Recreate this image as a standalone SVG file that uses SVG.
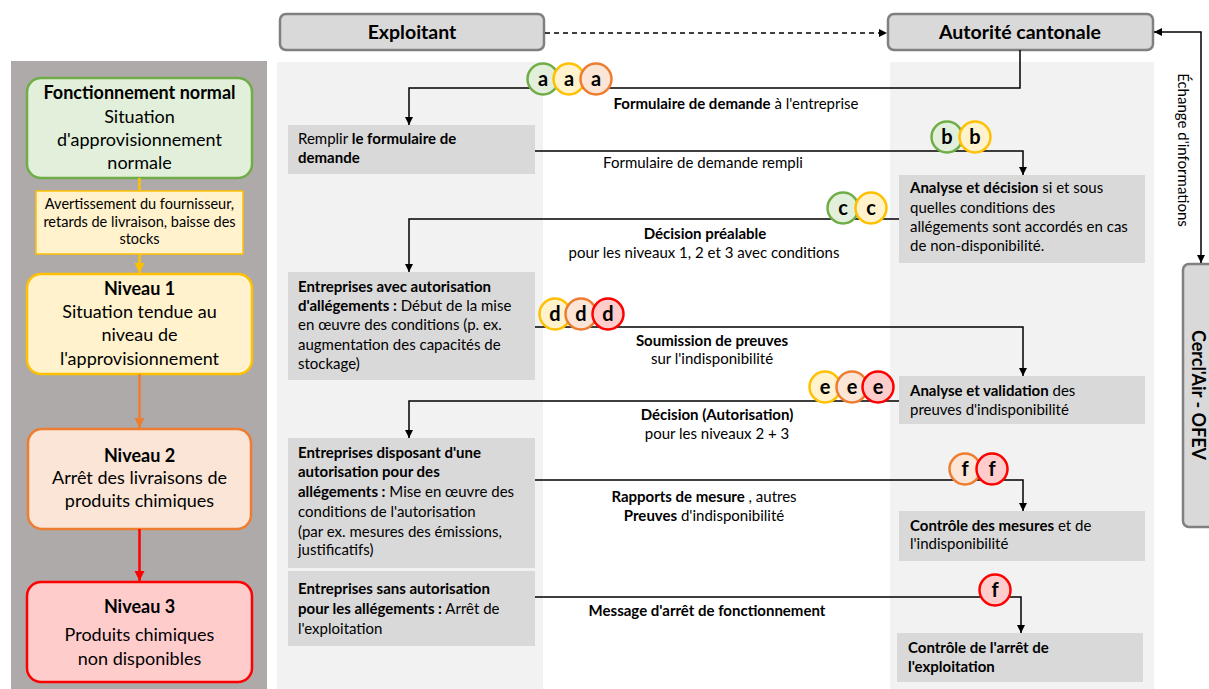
<svg xmlns="http://www.w3.org/2000/svg" width="1209" height="689" viewBox="0 0 1209 689">
<style>
text{font-family:Lato,"Open Sans","Liberation Sans",sans-serif;fill:#000}
.b{font-weight:bold}
.box{fill:#D9D9D9}
.t{font-size:15px}
.lt{font-size:18px;text-anchor:middle}
.ed{font-size:15px;text-anchor:middle}
.hdr{fill:#D9D9D9;stroke:#808080;stroke-width:2.5}
.ln{fill:none;stroke:#000;stroke-width:1.5}
.cg{fill:#E2EFDA;stroke:#70AD47;stroke-width:2.5}
.cy{fill:#FFF2CC;stroke:#FFC000;stroke-width:2.5}
.co{fill:#FBE5D6;stroke:#ED7D31;stroke-width:2.5}
.cr{fill:#FFCCCC;stroke:#FF0000;stroke-width:2.5}
.cl{font-size:20px;font-weight:bold;text-anchor:middle}
</style>
<defs>
<marker id="ah" markerUnits="userSpaceOnUse" markerWidth="9" markerHeight="9" refX="8" refY="4" orient="auto"><path d="M0,0 L8,4 L0,8 z" fill="#000"/></marker>
<marker id="ahs" markerUnits="userSpaceOnUse" markerWidth="9" markerHeight="9" refX="8" refY="4" orient="auto-start-reverse"><path d="M0,0 L8,4 L0,8 z" fill="#000"/></marker>
<marker id="ay" markerUnits="userSpaceOnUse" markerWidth="12" markerHeight="12" refX="10" refY="5" orient="auto"><path d="M0,0 L10,5 L0,10 z" fill="#FFC000"/></marker>
<marker id="ao" markerUnits="userSpaceOnUse" markerWidth="12" markerHeight="12" refX="10" refY="5" orient="auto"><path d="M0,0 L10,5 L0,10 z" fill="#ED7D31"/></marker>
<marker id="ar" markerUnits="userSpaceOnUse" markerWidth="12" markerHeight="12" refX="10" refY="5" orient="auto"><path d="M0,0 L10,5 L0,10 z" fill="#FF0000"/></marker>
</defs>

<!-- backgrounds -->
<rect x="11" y="61" width="256" height="628" fill="#AEAAAA"/>
<rect x="277" y="62" width="266" height="627" fill="#F2F2F2"/>
<rect x="890" y="62" width="264" height="627" fill="#F2F2F2"/>

<!-- left column -->
<g id="normal">
<rect x="27" y="78" width="225" height="100" rx="14" fill="#E2EFDA" stroke="#70AD47" stroke-width="2.5"/>
<text x="139.5" y="99" class="lt b" font-size="17">Fonctionnement normal</text>
<text x="139.5" y="123" class="lt">Situation</text>
<text x="139.5" y="146" class="lt">d'approvisionnement</text>
<text x="139.5" y="169" class="lt">normale</text>
</g>
<g id="avertissement">
<rect x="36" y="191" width="207" height="63" fill="#FFF2CC" stroke="#FFC000" stroke-width="1.5"/>
<text x="139.5" y="209" text-anchor="middle" font-size="14.5">Avertissement du fournisseur,</text>
<text x="139.5" y="227" text-anchor="middle" font-size="14.5">retards de livraison, baisse des</text>
<text x="139.5" y="244" text-anchor="middle" font-size="14.5">stocks</text>
</g>
<g id="niveau1">
<rect x="27" y="274" width="225" height="100" rx="14" fill="#FFF2CC" stroke="#FFC000" stroke-width="2.5"/>
<text x="139.5" y="295" class="lt b">Niveau 1</text>
<text x="139.5" y="318" class="lt">Situation tendue au</text>
<text x="139.5" y="341" class="lt">niveau de</text>
<text x="139.5" y="365" class="lt">l'approvisionnement</text>
</g>
<g id="niveau2">
<rect x="28" y="429" width="223" height="100" rx="14" fill="#FBE5D6" stroke="#ED7D31" stroke-width="2.5"/>
<text x="139.5" y="462" class="lt b">Niveau 2</text>
<text x="139.5" y="484" class="lt">Arrêt des livraisons de</text>
<text x="139.5" y="507" class="lt">produits chimiques</text>
</g>
<g id="niveau3">
<rect x="27" y="582" width="225" height="100" rx="14" fill="#FFCCCC" stroke="#FF0000" stroke-width="2.5"/>
<text x="139.5" y="613" class="lt b" font-size="21">Niveau 3</text>
<text x="139.5" y="641" class="lt" font-size="21">Produits chimiques</text>
<text x="139.5" y="665" class="lt" font-size="21">non disponibles</text>
</g>

<!-- headers -->
<g id="exploitant">
<rect x="280" y="14" width="264" height="36" rx="6" class="hdr"/>
<text x="412" y="39" text-anchor="middle" class="b" font-size="19.5">Exploitant</text>
</g>
<g id="autorite">
<rect x="888" y="14" width="265" height="36" rx="6" class="hdr"/>
<text x="1020" y="39" text-anchor="middle" class="b" font-size="19.5">Autorité cantonale</text>
</g>
<g id="cerclair">
<rect x="1183" y="264" width="40" height="263" rx="6" class="hdr"/>
<text transform="translate(1192,395) rotate(90)" text-anchor="middle" class="b" font-size="18">Cercl'Air - OFEV</text>
</g>

<!-- process boxes -->
<g id="remplir">
<rect x="288" y="125" width="247" height="49" class="box"/>
<text x="298" y="144" class="t">Remplir <tspan class="b">le formulaire de</tspan></text>
<text x="298" y="163" class="t b">demande</text>
</g>
<g id="analyse-decision">
<rect x="899" y="175" width="246" height="88" class="box"/>
<text x="910" y="193" class="t"><tspan class="b">Analyse et décision</tspan> si et sous</text>
<text x="910" y="213" class="t">quelles conditions des</text>
<text x="910" y="232" class="t">allégements sont accordés en cas</text>
<text x="910" y="251" class="t">de non-disponibilité.</text>
</g>
<g id="entreprises-avec">
<rect x="288" y="272" width="247" height="108" class="box"/>
<text x="298" y="292" class="t b">Entreprises avec autorisation</text>
<text x="298" y="311" class="t"><tspan class="b">d'allégements :</tspan> Début de la mise</text>
<text x="298" y="330" class="t">en œuvre des conditions (p. ex.</text>
<text x="298" y="350" class="t">augmentation des capacités de</text>
<text x="298" y="369" class="t">stockage)</text>
</g>
<g id="analyse-validation">
<rect x="899" y="376" width="246" height="48" class="box"/>
<text x="910" y="396" class="t"><tspan class="b">Analyse et validation</tspan> des</text>
<text x="910" y="415" class="t">preuves d'indisponibilité</text>
</g>
<g id="entreprises-disposant">
<rect x="288" y="438" width="247" height="130" class="box"/>
<text x="298" y="458" class="t b">Entreprises disposant d'une</text>
<text x="298" y="477" class="t b">autorisation pour des</text>
<text x="298" y="497" class="t"><tspan class="b">allégements :</tspan> Mise en œuvre des</text>
<text x="298" y="517" class="t">conditions de l'autorisation</text>
<text x="298" y="537" class="t">(par ex. mesures des émissions,</text>
<text x="298" y="555" class="t">justificatifs)</text>
</g>
<g id="controle-mesures">
<rect x="899" y="511" width="246" height="50" class="box"/>
<text x="910" y="531" class="t"><tspan class="b">Contrôle des mesures</tspan> et de</text>
<text x="910" y="549" class="t">l'indisponibilité</text>
</g>
<g id="entreprises-sans">
<rect x="288" y="571" width="247" height="75" class="box"/>
<text x="298" y="594" class="t b">Entreprises sans autorisation</text>
<text x="298" y="614" class="t"><tspan class="b">pour les allégements :</tspan> Arrêt de</text>
<text x="298" y="634" class="t">l'exploitation</text>
</g>
<g id="controle-arret">
<rect x="897" y="633" width="246" height="49" class="box"/>
<text x="908" y="653" class="t b">Contrôle de l'arrêt de</text>
<text x="908" y="672" class="t b">l'exploitation</text>
</g>

<!-- connectors -->
<g id="connectors">
<path d="M139.5,178 V191" fill="none" stroke="#FFC000" stroke-width="2.5"/>
<path d="M139.5,254 V273" fill="none" stroke="#FFC000" stroke-width="2.5" marker-end="url(#ay)"/>
<path d="M139.5,374 V428" fill="none" stroke="#ED7D31" stroke-width="2.5" marker-end="url(#ao)"/>
<path d="M139.5,529 V581" fill="none" stroke="#FF0000" stroke-width="2.5" marker-end="url(#ar)"/>
<path d="M545,33 H887" class="ln" stroke-dasharray="5,4" marker-end="url(#ah)"/>
<path d="M1154,32 H1201 V263" class="ln" marker-start="url(#ahs)" marker-end="url(#ah)"/>
<path d="M1020,50 V88 H409 V125" class="ln" marker-end="url(#ah)"/>
<path d="M535,151 H1023 V175" class="ln" marker-end="url(#ah)"/>
<path d="M899,219 H409 V272" class="ln" marker-end="url(#ah)"/>
<path d="M535,327 H1023 V376" class="ln" marker-end="url(#ah)"/>
<path d="M899,401 H409 V438" class="ln" marker-end="url(#ah)"/>
<path d="M535,480 H1023 V511" class="ln" marker-end="url(#ah)"/>
<path d="M535,597 H1021 V633" class="ln" marker-end="url(#ah)"/>
<text transform="translate(1178,150) rotate(90)" text-anchor="middle" font-size="15">Échange d'informations</text>
<text x="736" y="109" class="ed"><tspan class="b">Formulaire de demande</tspan> à l'entreprise</text>
<text x="703" y="168" class="ed">Formulaire de demande rempli</text>
<text x="705" y="239" class="ed b">Décision préalable</text>
<text x="704" y="258" class="ed">pour les niveaux 1, 2 et 3 avec conditions</text>
<text x="712" y="346" class="ed b">Soumission de preuves</text>
<text x="712" y="364" class="ed">sur l'indisponibilité</text>
<text x="717" y="420" class="ed b">Décision (Autorisation)</text>
<text x="717" y="439" class="ed">pour les niveaux 2 + 3</text>
<text x="704" y="502" class="ed"><tspan class="b">Rapports de mesure</tspan> , autres</text>
<text x="704" y="521" class="ed"><tspan class="b">Preuves</tspan> d'indisponibilité</text>
<text x="707" y="616" class="ed b">Message d'arrêt de fonctionnement</text>
</g>

<!-- step badges -->
<g id="badges">
<circle cx="543" cy="79" r="15.5" class="cg"/><text x="543" y="86" class="cl">a</text>
<circle cx="569" cy="79" r="15.5" class="cy"/><text x="569" y="86" class="cl">a</text>
<circle cx="596" cy="79" r="15.5" class="co"/><text x="596" y="86" class="cl">a</text>
<circle cx="947" cy="137" r="15.5" class="cg"/><text x="947" y="144" class="cl">b</text>
<circle cx="975" cy="137" r="15.5" class="cy"/><text x="975" y="144" class="cl">b</text>
<circle cx="843" cy="208" r="15.5" class="cg"/><text x="843" y="215" class="cl">c</text>
<circle cx="871" cy="208" r="15.5" class="cy"/><text x="871" y="215" class="cl">c</text>
<circle cx="555" cy="314" r="15.5" class="cy"/><text x="555" y="321" class="cl">d</text>
<circle cx="581" cy="314" r="15.5" class="co"/><text x="581" y="321" class="cl">d</text>
<circle cx="608" cy="314" r="15.5" class="cr"/><text x="608" y="321" class="cl">d</text>
<circle cx="825" cy="387" r="15.5" class="cy"/><text x="825" y="394" class="cl">e</text>
<circle cx="852" cy="387" r="15.5" class="co"/><text x="852" y="394" class="cl">e</text>
<circle cx="878" cy="387" r="15.5" class="cr"/><text x="878" y="394" class="cl">e</text>
<circle cx="965" cy="469" r="15.5" class="co"/><text x="965" y="476" class="cl">f</text>
<circle cx="992" cy="469" r="15.5" class="cr"/><text x="992" y="476" class="cl">f</text>
<circle cx="995" cy="590" r="15.5" class="cr"/><text x="995" y="597" class="cl">f</text>
</g>
</svg>
